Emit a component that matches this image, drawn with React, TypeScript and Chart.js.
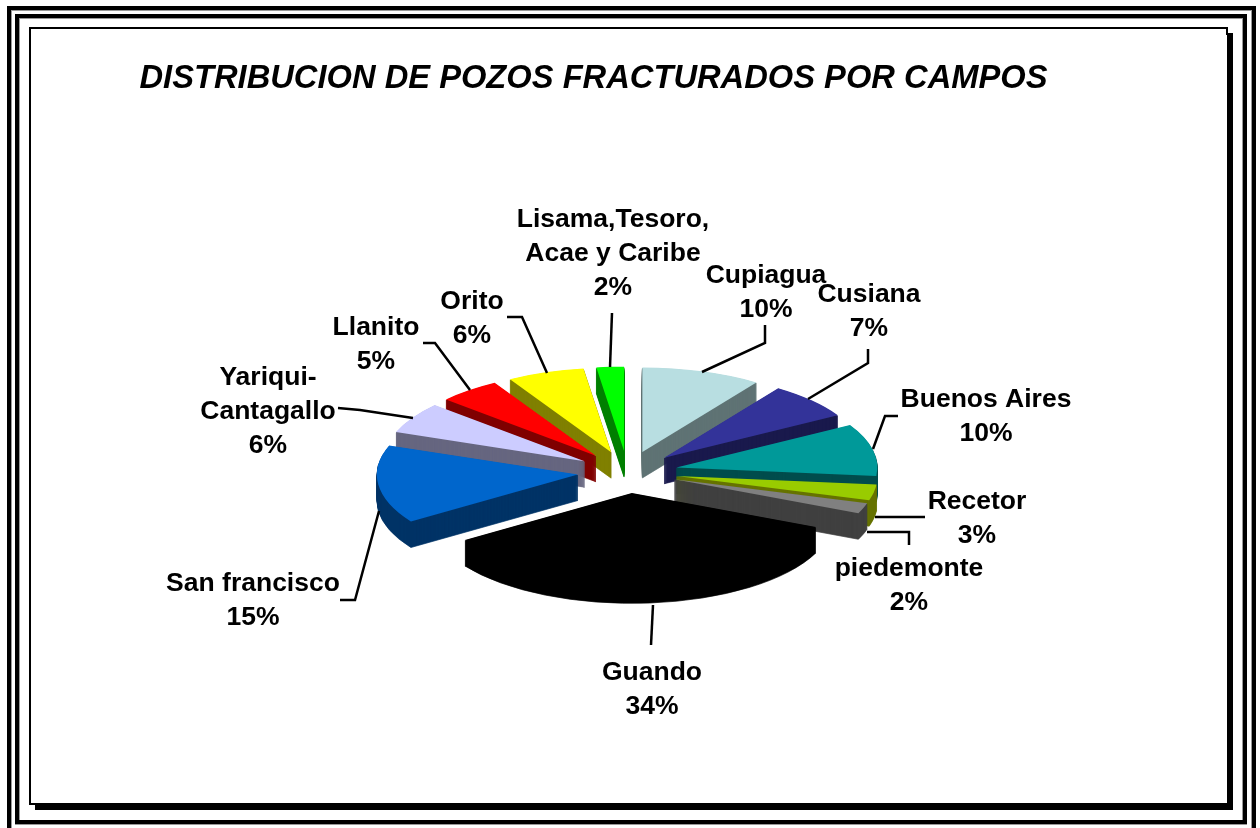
import React, { useEffect, useRef } from "react";
import { Chart, registerables } from "chart.js";

Chart.register(...registerables);

const titleText = "DISTRIBUCION DE POZOS FRACTURADOS POR CAMPOS";
const categories = ["Cupiagua", "Cusiana", "Buenos Aires", "Recetor", "piedemonte", "Guando", "San francisco", "Yariqui-Cantagallo", "Llanito", "Orito", "Lisama,Tesoro, Acae y Caribe"];
const values = [9.6, 7, 10, 3, 2, 34, 15, 6, 5, 6.2, 2.2];
const topColors = ["#B8DEE1", "#333399", "#009999", "#99CC00", "#808080", "#000000", "#0066CC", "#CCCCFF", "#FF0000", "#FFFF00", "#00FF00"];
const sideColors = ["#5F7374", "#1A1A4D", "#004D4D", "#667300", "#404040", "#000000", "#003366", "#666680", "#800000", "#808000", "#008000"];
const labelLines = [["Cupiagua"], ["Cusiana"], ["Buenos Aires"], ["Recetor"], ["piedemonte"], ["Guando"], ["San francisco"], ["Yariqui-", "Cantagallo"], ["Llanito"], ["Orito"], ["Lisama,Tesoro,", "Acae y Caribe"]];

// layout only
const CX = 627.5, CY = 472, RADIUS = 201, TILT = 0.42, EXPLODE = 50, DEPTH = 26, LINE_H = 34;
const labelAnchors: [number, number][] = [[766, 276], [869, 295], [986, 400], [977, 502], [909, 569], [652, 673], [253, 584], [268, 378], [376, 328], [472, 302], [613, 220]];
const leaders: [number, number][][] = [
  [[702, 372], [765, 343], [765, 325]],
  [[808, 399], [868, 363], [868, 349]],
  [[873, 449], [885, 416], [898, 416]],
  [[875, 517], [925, 517]],
  [[867, 532], [909, 532], [909, 545]],
  [[653, 605], [651, 645]],
  [[379, 511], [355, 600], [340, 600]],
  [[413, 418], [360, 410], [338, 408]],
  [[470, 390], [435, 343], [423, 343]],
  [[547, 373], [522, 317], [507, 317]],
  [[610, 367], [612, 313]],
];
const FONT = '"Liberation Sans", Arial, sans-serif';

const pie3d = {
  id: "pie3d",
  beforeDraw(chart: any) {
    const { ctx, width, height } = chart;
    ctx.save();
    ctx.fillStyle = "#fff";
    ctx.fillRect(0, 0, width, height);
    // soft grey edges of the double frame
    ctx.fillStyle = "#999";
    ctx.fillRect(11, 10, 1, 818);
    ctx.fillRect(11, 10, 1241, 1);
    ctx.fillRect(19, 18, 1, 802);
    ctx.fillRect(19, 18, 1224, 1);
    ctx.fillRect(1251, 10, 1, 818);
    ctx.fillRect(1242, 18, 1, 802);
    ctx.fillRect(15, 824, 1232, 1);
    ctx.fillStyle = "#000";
    // outer frame (open at the bottom)
    ctx.fillRect(7, 6, 1249, 4);
    ctx.fillRect(7, 6, 4, 822);
    ctx.fillRect(1252, 6, 4, 822);
    // second frame
    ctx.fillRect(15, 14, 1232, 4);
    ctx.fillRect(15, 14, 4, 810);
    ctx.fillRect(1243, 14, 4, 810);
    ctx.fillRect(15, 820, 1232, 4);
    // inner frame with drop shadow
    ctx.fillRect(29, 27, 1199, 2);
    ctx.fillRect(29, 27, 2, 778);
    ctx.fillRect(29, 803, 10, 2);
    ctx.fillRect(1226, 27, 2, 8);
    ctx.fillRect(1227, 33, 6, 777);
    ctx.fillRect(35, 803, 1198, 7);
    ctx.restore();
  },
  beforeDatasetsDraw(chart: any) {
    const { ctx } = chart;
    const arcs = chart.getDatasetMeta(0).data.map((arc: any, i: number) => {
      const mid = (arc.startAngle + arc.endAngle) / 2;
      return { arc, i, mid };
    });
    arcs.sort((a: any, b: any) => Math.sin(a.mid) - Math.sin(b.mid));
    const paint = (item: any, lift: number, color: string, border: number) => {
      const { arc, mid } = item;
      const saved = arc.options;
      arc.options = { ...saved, backgroundColor: color, borderWidth: border, borderColor: color };
      ctx.save();
      ctx.translate(CX, CY + lift);
      ctx.scale(1, TILT);
      ctx.translate(Math.cos(mid) * EXPLODE - arc.x, Math.sin(mid) * EXPLODE - arc.y);
      arc.draw(ctx);
      ctx.restore();
      arc.options = saved;
    };
    arcs.forEach((item: any) => {
      for (let d = DEPTH; d >= 1; d--) paint(item, d, sideColors[item.i], 1);
      paint(item, 0, topColors[item.i], 0);
    });
    return false;
  },
  afterDraw(chart: any) {
    const { ctx } = chart;
    ctx.save();
    ctx.strokeStyle = "#000";
    ctx.lineWidth = 2.5;
    leaders.forEach((pts) => {
      ctx.beginPath();
      pts.forEach(([x, y], i) => (i ? ctx.lineTo(x, y) : ctx.moveTo(x, y)));
      ctx.stroke();
    });
    ctx.fillStyle = "#000";
    ctx.textAlign = "center";
    ctx.textBaseline = "middle";
    ctx.font = `bold 26.5px ${FONT}`;
    labelLines.forEach((lines, i) => {
      const [x, y] = labelAnchors[i];
      [...lines, `${Math.round(values[i])}%`].forEach((t, j) => ctx.fillText(t, x, y + j * LINE_H));
    });
    ctx.font = `italic bold 32.7px ${FONT}`;
    ctx.fillText(titleText, 593.5, 79);
    ctx.restore();
  },
};

export default function App() {
  const ref = useRef<HTMLCanvasElement>(null);
  useEffect(() => {
    const chart = new Chart(ref.current!, {
      type: "pie",
      data: {
        labels: categories,
        datasets: [{ data: values, backgroundColor: topColors, borderWidth: 0, radius: RADIUS }],
      },
      options: {
        animation: false,
        responsive: false,
        plugins: { legend: { display: false }, tooltip: { enabled: false } },
      },
      plugins: [pie3d],
    } as any);
    return () => chart.destroy();
  }, []);
  return <canvas ref={ref} width={1260} height={828} style={{ position: "fixed", left: 0, top: 0, width: 1260, height: 828 }} />;
}
